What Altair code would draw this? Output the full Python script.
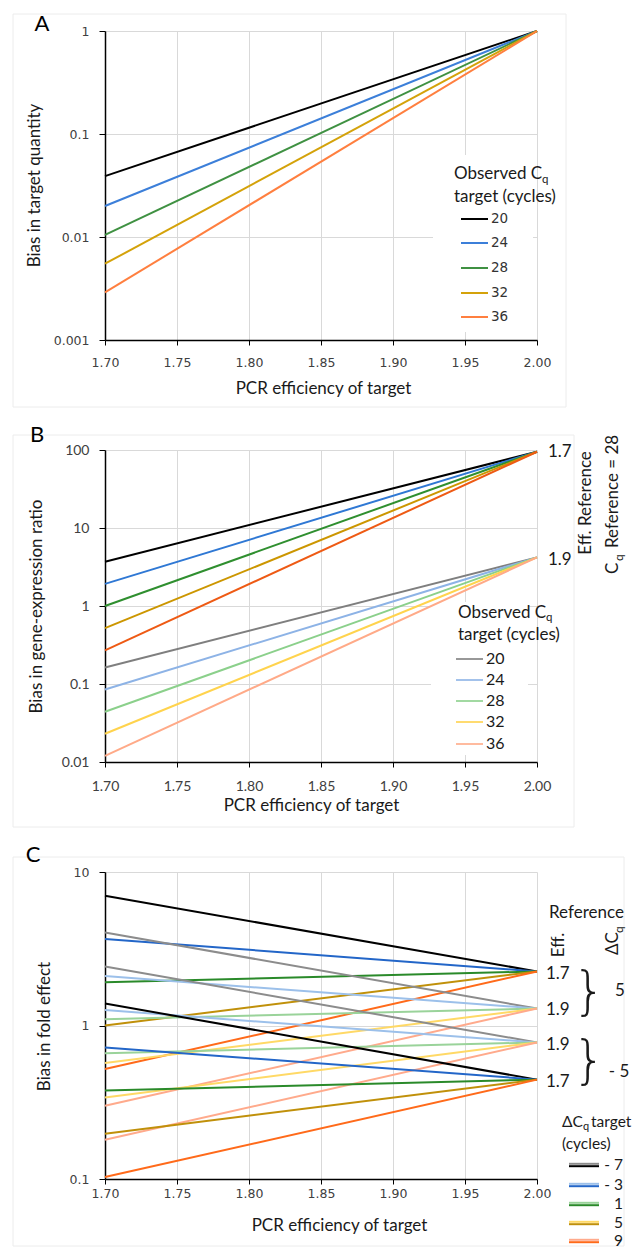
import altair as alt
import pandas as pd

# ---------------- data ----------------
eff_x = [1.70, 2.00]
x_ticks = [1.70, 1.75, 1.80, 1.85, 1.90, 1.95, 2.00]

# Panel A: bias in target quantity
cq_A = ["20", "24", "28", "32", "36"]
A_at_170 = [0.039, 0.020, 0.0105, 0.0055, 0.0029]
A_at_200 = [1.0, 1.0, 1.0, 1.0, 1.0]

# Panel B: bias in gene-expression ratio (reference eff 1.7 and 1.9, Cq ref = 28)
cq_B = ["20", "24", "28", "32", "36"]
B17_at_170 = [3.7, 1.92, 1.0, 0.52, 0.27]
B17_at_200 = [95, 95, 95, 95, 95]
B19_at_170 = [0.163, 0.085, 0.044, 0.023, 0.012]
B19_at_200 = [4.2, 4.2, 4.2, 4.2, 4.2]

# Panel C: bias in fold effect, dCq target -7,-3,1,5,9
dcq_C = ["-7", "-3", "1", "5", "9"]
C_groups = ["1.7|5", "1.9|5", "1.9|-5", "1.7|-5"]
C_at_170 = {
    "1.7|5": [7.0, 3.66, 1.91, 1.0, 0.52],
    "1.9|5": [4.03, 2.10, 1.10, 0.57, 0.30],
    "1.9|-5": [2.42, 1.26, 0.66, 0.34, 0.18],
    "1.7|-5": [1.39, 0.72, 0.377, 0.197, 0.103],
}
C_at_200 = {"1.7|5": 2.25, "1.9|5": 1.29, "1.9|-5": 0.776, "1.7|-5": 0.444}

# ---------------- styles ----------------
colA = ["#000000", "#3C7FD9", "#3F9142", "#D4A20A", "#FF7F3F"]
colB_dark = ["#000000", "#2F78D4", "#2F8F2F", "#CC9600", "#EE5A14"]
colB_light = ["#7F7F7F", "#8DB3E6", "#8BD08B", "#FFD34D", "#FFAA88"]
colC_dark = ["#000000", "#2366C8", "#2A8A2A", "#C0900A", "#FF6A1A"]
colC_light = ["#8C8C8C", "#9CC0EA", "#9AD39A", "#FFD966", "#FFAA8C"]

TF = "Lato"
NF = "DejaVu Sans"
W = 432


def T(s, x, y, size=17, font=TF, align="left", baseline="middle", angle=0,
      color="#1a1a1a", weight="normal"):
    kw = dict(text=s, fontSize=size, font=font, align=align, baseline=baseline,
              color=color, fontWeight=weight)
    if angle:
        kw["angle"] = angle
    return alt.Chart(alt.Data(values=[{"k": 1}])).mark_text(**kw).encode(
        x=alt.value(x), y=alt.value(y))


def R(x1, x2, y, color, w=2):
    return alt.Chart(alt.Data(values=[{"k": 1}])).mark_rule(
        color=color, strokeWidth=w).encode(x=alt.value(x1), x2=alt.value(x2), y=alt.value(y))


def BOX(x1, x2, y1, y2, fill="white", stroke=None):
    kw = dict(fill=fill)
    if stroke:
        kw = dict(fillOpacity=0, stroke=stroke, strokeWidth=1)
    return alt.Chart(alt.Data(values=[{"k": 1}])).mark_rect(**kw).encode(
        x=alt.value(x1), x2=alt.value(x2), y=alt.value(y1), y2=alt.value(y2))


def lines(df, domain, colors, ydom, xaxis, yaxis):
    return alt.Chart(df).mark_line(strokeWidth=2, clip=False).encode(
        x=alt.X("x:Q", scale=alt.Scale(domain=[1.70, 2.00], nice=False, zero=False),
                axis=alt.Axis(**xaxis)),
        y=alt.Y("y:Q", scale=alt.Scale(type="log", domain=ydom, nice=False),
                axis=alt.Axis(**yaxis)),
        color=alt.Color("s:N", scale=alt.Scale(domain=domain, range=colors), legend=None),
        order=alt.Order("o:Q"),
    )


def xax(label_font, label_size, pad, tx, ty):
    return dict(values=x_ticks, format=".2f", title="PCR efficiency of target",
                labelFont=label_font, labelFontSize=label_size, labelColor="#404040",
                labelPadding=pad, tickSize=5, tickColor="#000", domainColor="#000",
                domainWidth=1.5, gridColor="#d9d9d9", grid=True, labelFlush=False,
                titleFont=TF, titleFontSize=17, titleFontWeight="normal", titleColor="#1a1a1a",
                titleX=tx, titleY=ty, titleAlign="center", titleBaseline="middle")


def yax(vals, title, label_font, label_size, tx, ty):
    return dict(values=vals, format="~g", title=title,
                labelFont=label_font, labelFontSize=label_size, labelColor="#404040",
                labelPadding=10, tickSize=6, tickColor="#000", domainColor="#000",
                domainWidth=1.5, gridColor="#d9d9d9", grid=True, labelFlush=False,
                titleFont=TF, titleFontSize=17, titleFontWeight="normal", titleColor="#1a1a1a",
                titleX=tx, titleY=ty, titleAngle=270, titleAlign="center",
                titleBaseline="middle")


# ---------------- Panel A ----------------
HA = 309
rowsA = []
for i, c in enumerate(cq_A):
    rowsA.append({"x": eff_x[0], "y": A_at_170[i], "s": "A" + c, "o": 0})
    rowsA.append({"x": eff_x[1], "y": A_at_200[i], "s": "A" + c, "o": 1})
dfA = pd.DataFrame(rowsA)

legA = [T("Observed C", 349, 143), T("q", 437, 149, size=11.5),
        T("target (cycles)", 349, 166)]
ysA = [188, 212, 237, 262, 286]
for i, c in enumerate(cq_A):
    legA.append(R(356, 383, ysA[i], colA[i]))
    legA.append(T(c, 386, ysA[i], size=13.5, font=NF, color="#333333"))

panelA = alt.layer(
    BOX(-92, 461, -17, 376, stroke="#ececec"),
    BOX(328, 428, 124, 301),
    lines(dfA, ["A" + c for c in cq_A], colA, [0.001, 1],
          xax(NF, 12.5, 11, 218, 48),
          yax([0.001, 0.01, 0.1, 1], "Bias in target quantity", NF, 12.5, -71, 154)),
    T("A", -63, 0, size=22, align="center", baseline="alphabetic", color="#000"),
    *legA,
).properties(width=W, height=HA)

# ---------------- Panel B ----------------
HB = 312
rowsB = []
domB, colB = [], []
for i, c in enumerate(cq_B):
    k = "B1.7|" + c
    domB.append(k); colB.append(colB_dark[i])
    rowsB.append({"x": eff_x[0], "y": B17_at_170[i], "s": k, "o": 0})
    rowsB.append({"x": eff_x[1], "y": B17_at_200[i], "s": k, "o": 1})
for i, c in enumerate(cq_B):
    k = "B1.9|" + c
    domB.append(k); colB.append(colB_light[i])
    rowsB.append({"x": eff_x[0], "y": B19_at_170[i], "s": k, "o": 0})
    rowsB.append({"x": eff_x[1], "y": B19_at_200[i], "s": k, "o": 1})
dfB = pd.DataFrame(rowsB)

legB = [T("Observed C", 353, 163), T("q", 441, 168, size=11.5),
        T("target (cycles)", 353, 185)]
ysB = [209, 230, 251, 272, 294]
for i, c in enumerate(cq_B):
    legB.append(R(351, 378, ysB[i], colB_light[i], w=1.6))
    legB.append(T(c, 381, ysB[i], size=16))

panelB = alt.layer(
    BOX(-92, 469, -15, 377, stroke="#ececec"),
    BOX(326, 423, 152, 305),
    lines(dfB, domB, colB, [0.01, 100],
          xax(TF, 14, 12, 206, 43),
          yax([0.01, 0.1, 1, 10, 100], "Bias in gene-expression ratio", TF, 14, -69, 156)),
    T("B", -68, -8, size=22, align="center", baseline="alphabetic", color="#000"),
    T("1.7", 443, 2), T("1.9", 443, 110),
    T("Eff. Reference", 481, 53, angle=270, align="center"),
    T("C", 508, 124, angle=270),
    T("q", 514, 111, size=12, angle=270),
    T("Reference = 28", 508, 98, angle=270),
    *legB,
).properties(width=W, height=HB)

# ---------------- Panel C ----------------
HC = 307
rowsC = []
domC, colC = [], []
for g in C_groups:
    light = g.startswith("1.9")
    for i, d in enumerate(dcq_C):
        k = "C" + g + "|" + d
        domC.append(k)
        colC.append(colC_light[i] if light else colC_dark[i])
        rowsC.append({"x": eff_x[0], "y": C_at_170[g][i], "s": k, "o": 0})
        rowsC.append({"x": eff_x[1], "y": C_at_200[g], "s": k, "o": 1})
dfC = pd.DataFrame(rowsC)

legC = [T("\u0394C", 457, 250, size=15.5), T("q", 478, 255, size=11),
        T("target", 486, 250, size=15.5),
        T("(cycles)", 457, 272, size=15.5)]
ysC = [293, 313, 332, 351, 369]
labC = ["- 7", "- 3", "1", "5", "9"]
for i in range(5):
    legC.append(R(464, 494, ysC[i] - 1.2, colC_light[i], w=2))
    legC.append(R(464, 494, ysC[i] + 1.2, colC_dark[i], w=2))
    legC.append(T(labC[i], 518, ysC[i], size=15.5, align="right"))

panelC = alt.layer(
    BOX(-92, 519, -15, 374, stroke="#ececec"),
    lines(dfC, domC, colC, [0.1, 10],
          xax(NF, 12.5, 3, 234, 46),
          yax([0.1, 1, 10], "Bias in fold effect", NF, 12.5, -61, 154)),
    T("C", -72, -10, size=22, align="center", baseline="alphabetic", color="#000"),
    T("Reference", 444, 41),
    T("Eff.", 454, 73, angle=270, align="center"),
    T("\u0394C", 508, 83, angle=270),
    T("q", 514, 61, size=12, angle=270),
    T("1.7", 441, 102), T("1.9", 441, 138), T("1.9", 441, 173), T("1.7", 441, 210),
    T("}", 484, 120, size=52, font=NF, weight=200, align="center"),
    T("}", 484, 189, size=52, font=NF, weight=200, align="center"),
    T("5", 515, 119, align="center"),
    T("- 5", 514, 200, align="center"),
    *legC,
).properties(width=W, height=HC)

chart = alt.vconcat(panelA, panelB, panelC, spacing=110, bounds="flush").resolve_scale(
    color="independent"
).configure_view(
    stroke="transparent"
).properties(padding={"left": 12, "top": 12, "right": 0, "bottom": 0})

chart.save("out.html", embed_options={"renderer": "svg", "actions": False})
